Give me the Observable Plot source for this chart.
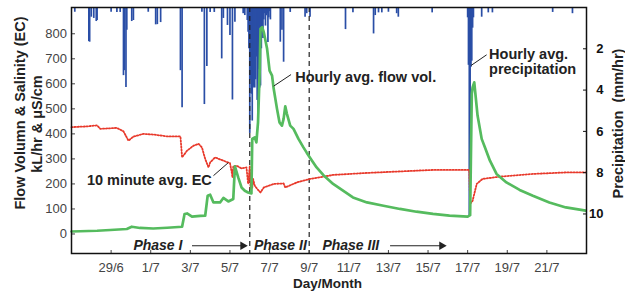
<!DOCTYPE html>
<html><head><meta charset="utf-8">
<script src="https://cdn.jsdelivr.net/npm/d3@7"></script>
<script src="https://cdn.jsdelivr.net/npm/@observablehq/plot@0.6"></script>
<style>
body{margin:0;background:#fff}
#chart svg{font-family:"Liberation Sans",Arial,Helvetica,sans-serif;overflow:hidden}
</style>
</head><body><div id="chart"></div>
<script>
// ---- data ----
const flowTime = ["06-27 00","06-28 07","06-28 23","06-29 19","06-30 01","06-30 11","07-01 03","07-01 20","07-02 14","07-02 17",
"07-02 20","07-03 02","07-03 12","07-03 18","07-03 21","07-04 00","07-04 04","07-04 12","07-04 16","07-04 22",
"07-05 04","07-05 06","07-05 10","07-05 14","07-05 18","07-05 22","07-06 02","07-06 03","07-06 06","07-06 08",
"07-06 10","07-06 12","07-06 13","07-06 15","07-06 17","07-06 21","07-07 00","07-07 03","07-07 05","07-07 09",
"07-07 12","07-07 15","07-07 17","07-07 19","07-07 21","07-08 01","07-08 05","07-08 11","07-08 17","07-08 21",
"07-09 02","07-09 09","07-09 17","07-10 05","07-10 17","07-11 05","07-11 22","07-12 18","07-13 14","07-14 10",
"07-15 06","07-16 02","07-17 00","07-17 03","07-17 05","07-17 06","07-17 08","07-17 12","07-17 17","07-17 21",
"07-18 03","07-18 11","07-18 23","07-19 15","07-20 07","07-21 03","07-21 23","07-22 23"];
const flowValue = [10,13,16,20,29,24,22,25,29,80,
82,69,72,73,153,157,126,126,144,130,
140,270,226,186,173,166,162,380,386,366,
446,646,820,826,806,740,653,633,580,500,
446,433,460,510,480,433,420,380,346,325,
300,266,236,200,173,146,126,113,100,89,
80,73,69,75,560,586,606,473,380,346,
293,240,206,176,153,126,106,93];

const ecTime = ["06-27 00","06-27 19","06-28 07","06-28 11","06-29 07","06-29 15","06-29 21","06-30 03","06-30 15","07-01 04",
"07-01 20","07-02 12","07-02 14","07-02 20","07-03 04","07-03 10","07-03 14","07-03 18","07-03 22","07-04 00",
"07-04 06","07-04 16","07-05 00","07-05 02","07-05 03","07-05 04","07-05 08","07-05 14","07-05 20","07-05 22",
"07-06 00","07-06 01","07-06 02","07-06 03","07-06 04","07-06 06","07-06 09","07-06 13","07-06 17","07-07 05",
"07-07 17","07-07 19","07-08 09","07-09 01","07-10 05","07-11 22","07-13 14","07-15 06","07-16 22","07-17 02",
"07-17 03","07-17 06","07-17 11","07-17 18","07-18 15","07-20 07","07-21 23","07-22 23"];
const ecValue = [427,430,434,420,424,410,373,389,400,397,
390,390,306,333,353,360,346,300,266,286,
306,293,283,250,226,270,273,262,266,200,
272,180,240,185,220,193,180,166,186,200,
202,186,206,220,236,244,250,256,256,256,
120,133,200,220,229,240,246,246];

const rainTime = ["06-27 04","06-27 21","06-27 22","06-28 00","06-28 03","06-28 06","06-28 07","06-29 00","06-29 07","06-29 11",
"06-29 15","06-29 16","06-29 18","06-29 19","06-30 01","06-30 03","06-30 21","07-01 06","07-01 08","07-01 12",
"07-02 12","07-02 14","07-03 14","07-03 17","07-03 20","07-04 00","07-04 05","07-04 14","07-04 16","07-04 21",
"07-05 00","07-05 03","07-05 06","07-05 16","07-05 18","07-05 21","07-05 22","07-05 23","07-06 00","07-06 01",
"07-06 02","07-06 03","07-06 04","07-06 05","07-06 06","07-06 07","07-06 08","07-06 09","07-06 10","07-06 11",
"07-06 12","07-06 13","07-06 14","07-06 15","07-06 16","07-06 17","07-06 18","07-06 19","07-06 20","07-06 21",
"07-06 22","07-06 23","07-07 00","07-07 01","07-07 13","07-07 15","07-07 17","07-08 01","07-08 19","07-08 21",
"07-09 01","07-10 20","07-11 05","07-12 06","07-12 08","07-12 12","07-12 16","07-13 00","07-13 10","07-13 12",
"07-15 05","07-17 00","07-17 01","07-17 02","07-17 03","07-17 04","07-17 05","07-17 06","07-17 07","07-17 17",
"07-18 01","07-18 06","07-21 07","07-22 07"];
const rainValue = [0.23,1.65,1.68,0.47,0.53,0.68,0.63,0.23,0.24,0.24,
3.3,3.06,3.87,1.1,0.68,0.63,0.23,0.84,0.83,0.73,
3.06,4.85,0.23,4.7,2.86,0.24,0.24,2.49,0.53,0.87,
1.36,4.48,0.71,0.3,0.39,0.63,1.2,2.0,6.1,3.5,
4.2,5.5,3.9,3.8,3.9,3.5,2.4,4.5,5.2,3.0,
3.9,3.8,2.0,1.0,1.5,0.6,0.3,0.9,0.4,0.3,
1.7,0.5,0.2,0.6,1.68,1.1,2.65,0.24,0.47,0.3,
0.47,1.07,0.26,1.28,0.39,0.26,0.26,0.23,0.3,0.47,
0.26,0.5,2.8,10.1,6.2,2.9,2.6,1.0,0.5,0.47,
0.26,0.26,0.24,0.3];

const xTickLabels = ["29/6","1/7","3/7","5/7","7/7","9/7","11/7","13/7","15/7","17/7","19/7","21/7"];
const xTickDates = ["06-29 00","07-01 00","07-03 00","07-05 00","07-07 00","07-09 00","07-11 00","07-13 00","07-15 00","07-17 00","07-19 00","07-21 00"];
const leftTicks = [0,100,200,300,400,500,600,700,800];
const rightTicks = [2,4,6,8,10];
const phaseBounds = ["07-06 00","07-09 00"];
const phaseNames = ["Phase I","Phase II","Phase III"];
const phaseStart = ["06-30 03","07-06 05","07-09 16"];
const arrowFrom = ["07-03 02","07-13 02"];
const arrowTo = ["07-05 18","07-15 19"];

// ---- build ----
const parse = d3.utcParse("%m-%d %H");
const Y_TOP = 905;       // top of left scale
const P_SCALE = 82.5;    // left units per mm/hr on the inverted right axis
const toLeft = p => Y_TOP - P_SCALE * p;

const flow = flowTime.map((t, i) => ({t: parse(t), v: flowValue[i]}));
const ec = ecTime.map((t, i) => ({t: parse(t), v: ecValue[i]}));
const rain = rainTime.map((t, i) => ({t: parse(t), p: rainValue[i]}));
const xTicks = xTickDates.map(parse);
const tickLabel = new Map(xTicks.map((d, i) => [+d, xTickLabels[i]]));

const phaseY = -47;
const phases = phaseNames.map((n, i) => ({t: parse(phaseStart[i]), n}));
const arrows = arrowFrom.map((a, i) => ({a: parse(a), b: parse(arrowTo[i])}));

const notesStart = [
  {t: parse("07-08 07"), v: 626, s: "Hourly avg. flow vol."},
  {t: parse("07-18 02"), v: 719, s: "Hourly avg."},
  {t: parse("07-18 02"), v: 656, s: "precipitation"}
];
const notesEnd = [
  {t: parse("07-04 02"), v: 213, s: "10 minute avg. EC"}
];
const leaders = [
  {t1: parse("07-07 05"), v1: 591, t2: parse("07-08 02"), v2: 637},
  {t1: parse("07-04 04"), v1: 233, t2: parse("07-04 22"), v2: 285},
  {t1: parse("07-17 04"), v1: 673, t2: parse("07-17 23"), v2: 716}
];

const BLUE = "#2a4ea6", GREEN = "#55bb5e", RED = "#e8392b";

const chart = Plot.plot({
  width: 625, height: 292,
  marginLeft: 71, marginRight: 39, marginTop: 7, marginBottom: 39,
  x: {type: "utc", domain: [parse("06-27 00"), parse("07-23 00")]},
  y: {domain: [-78, Y_TOP]},
  marks: [
    Plot.ruleX(rain, {x: "t", y1: () => Y_TOP, y2: d => toLeft(d.p), stroke: BLUE, strokeWidth: 1.7}),
    Plot.ruleX(phaseBounds.map(parse), {stroke: "#222", strokeWidth: 1.2, strokeDasharray: "5,4"}),
    Plot.line(ec, {x: "t", y: "v", stroke: RED, strokeWidth: 1.8, strokeDasharray: "1.3,1.7"}),
    Plot.line(flow, {x: "t", y: "v", stroke: GREEN, strokeWidth: 2.7}),
    Plot.link(leaders, {x1: "t1", y1: "v1", x2: "t2", y2: "v2", stroke: "#222", strokeWidth: 1}),
    Plot.text(notesStart, {x: "t", y: "v", text: "s", textAnchor: "start", fontSize: 14.5, fontWeight: "bold", fill: "#222"}),
    Plot.text(notesEnd, {x: "t", y: "v", text: "s", textAnchor: "end", fontSize: 14.5, fontWeight: "bold", fill: "#222"}),
    Plot.text(phases, {x: "t", y: () => phaseY, text: "n", textAnchor: "start", fontSize: 14, fontWeight: "bold", fontStyle: "italic", fill: "#222"}),
    Plot.link(arrows, {x1: "a", x2: "b", y1: () => phaseY, y2: () => phaseY, stroke: "#222", strokeWidth: 1.2}),
    Plot.dot(arrows, {x: "b", y: () => phaseY, symbol: "triangle", rotate: 90, r: 3.2, fill: "#222", dx: -2}),
    Plot.axisX(xTicks, {anchor: "bottom", tickFormat: d => tickLabel.get(+d), tickSize: -3, tickPadding: 12, fontSize: 13, color: "#444", label: null}),
    Plot.axisY(leftTicks, {anchor: "left", tickSize: -4, tickPadding: 8.5, fontSize: 13, color: "#444", label: null}),
    Plot.axisY(rightTicks.map(toLeft), {anchor: "right", tickFormat: v => String(Math.round((Y_TOP - v) / P_SCALE)), tickSize: -4, tickPadding: 21, textAnchor: "end", fontSize: 13, fontWeight: "bold", color: "#111", label: null}),
    Plot.frame({stroke: "#111", strokeWidth: 1.5}),
    Plot.text(["Flow Volumn & Salinity (EC)"], {text: d => d, frameAnchor: "top-left", dx: -51, dy: 105.5, rotate: -90, textAnchor: "middle", lineAnchor: "middle", fontSize: 14.5, fontWeight: "bold", fill: "#222"}),
    Plot.text(["kL/hr & μS/cm"], {text: d => d, frameAnchor: "top-left", dx: -34, dy: 116.5, rotate: -90, textAnchor: "middle", lineAnchor: "middle", fontSize: 14.5, fontWeight: "bold", fill: "#222"}),
    Plot.text(["Precipitation  (mm/hr)"], {text: d => d, frameAnchor: "top-right", dx: 32, dy: 116, rotate: -90, textAnchor: "middle", lineAnchor: "middle", fontSize: 14.5, fontWeight: "bold", fill: "#222"}),
    Plot.text(["Day/Month"], {text: d => d, frameAnchor: "bottom", dx: -1.5, dy: 30, textAnchor: "middle", lineAnchor: "middle", fontSize: 13.5, fontWeight: "bold", fill: "#222"})
  ]
});
document.getElementById("chart").appendChild(chart);
</script>
</body></html>
